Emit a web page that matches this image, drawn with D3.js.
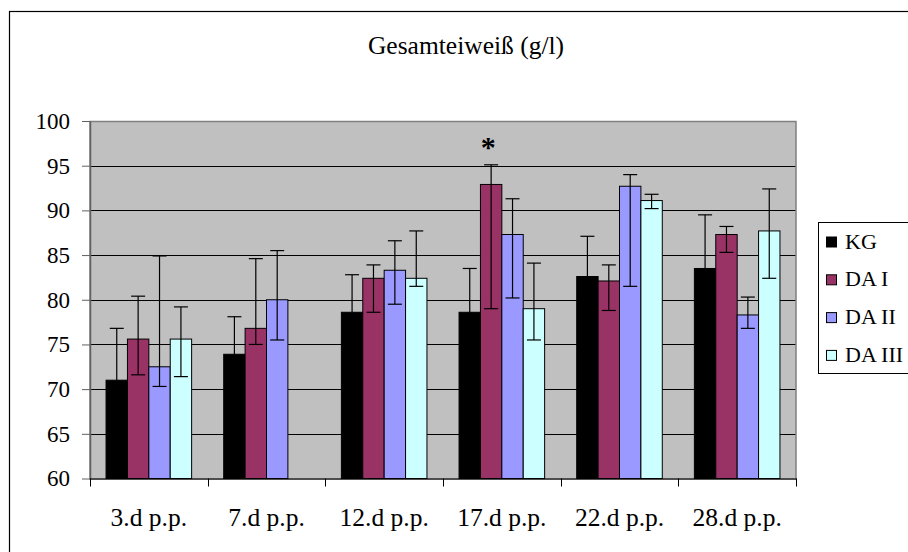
<!DOCTYPE html>
<html>
<head>
<meta charset="utf-8">
<script src="https://cdn.jsdelivr.net/npm/d3@7"></script>
<style>
  html, body { margin: 0; padding: 0; background: #fff; }
  svg { display: block; }
</style>
</head>
<body>
<svg id="chart" width="908" height="552"></svg>
<script>
// Sampling days (x categories) and groups (series)
const categories = ["3.d p.p.", "7.d p.p.", "12.d p.p.", "17.d p.p.", "22.d p.p.", "28.d p.p."];
const seriesNames = ["KG", "DA I", "DA II", "DA III"];
const seriesColors = ["#000000", "#993366", "#9999FF", "#CCFFFF"];

// Mean total protein (g/l) per group
const kg    = [71.0, 73.9, 78.6, 78.6, 82.6, 83.5];
const daI   = [75.6, 76.8, 82.4, 92.9, 82.1, 87.3];
const daII  = [72.5, 80.0, 83.3, 87.3, 92.7, 78.3];
const daIII = [75.6, null, 82.4, 79.0, 91.1, 87.7];

// Error bar ends (upper / lower) per group
const kgHigh    = [76.8, 78.1, 82.8, 83.5, 87.1, 89.5];
const kgLow     = [65.2, 69.7, 74.4, 73.7, 78.1, 77.5];
const daIHigh   = [80.4, 84.6, 83.9, 95.1, 83.9, 88.2];
const daILow    = [71.6, 75.0, 78.6, 79.0, 78.8, 85.3];
const daIIHigh  = [84.9, 85.5, 86.6, 91.3, 94.0, 80.3];
const daIILow   = [70.3, 75.5, 79.5, 80.2, 81.5, 76.8];
const daIIIHigh = [79.2, null, 87.7, 84.1, 91.8, 92.4];
const daIIILow  = [71.4, null, 81.5, 75.5, 90.2, 82.4];

// Y axis ticks
const yTicks = [60, 65, 70, 75, 80, 85, 90, 95, 100];

// Significance marker: category and series it sits above
const markers = [{ category: "17.d p.p.", series: "DA I", high: 95.1, text: "*" }];

const title = "Gesamteiweiß (g/l)";
const serif = "Liberation Serif";

const means = [kg, daI, daII, daIII];
const highs = [kgHigh, daIHigh, daIIHigh, daIIIHigh];
const lows  = [kgLow, daILow, daIILow, daIIILow];

const rows = [];
seriesNames.forEach((s, si) => {
  categories.forEach((c, ci) => {
    if (means[si][ci] == null) return;
    rows.push({ series: s, si, category: c, value: means[si][ci], high: highs[si][ci], low: lows[si][ci] });
  });
});

const svg = d3.select("#chart");
const plot = { left: 90, right: 796, top: 121, bottom: 478.5 };

const x0 = d3.scaleBand().domain(categories).range([plot.left, plot.right]).paddingInner(0).paddingOuter(0);
const x1 = d3.scaleBand().domain(seriesNames).range([0, x0.bandwidth()]).paddingInner(0).paddingOuter(0.75);
const y = d3.scaleLinear().domain([60, 100]).range([plot.bottom, plot.top]);
const color = d3.scaleOrdinal().domain(seriesNames).range(seriesColors);

// Outer chart frame
svg.append("rect")
  .attr("x", 9.5).attr("y", 11.5).attr("width", 1000).attr("height", 1000)
  .attr("fill", "#fff").attr("stroke", "#000").attr("stroke-width", 1.2);

// Title
svg.append("text")
  .attr("x", 466).attr("y", 54)
  .attr("text-anchor", "middle")
  .attr("font-family", serif)
  .attr("font-size", 25.5)
  .text(title);

// Plot area background
svg.append("rect")
  .attr("x", plot.left).attr("y", plot.top)
  .attr("width", plot.right - plot.left).attr("height", plot.bottom - plot.top)
  .attr("fill", "#C0C0C0");

// Horizontal gridlines
svg.append("g")
  .selectAll("line")
  .data(yTicks.filter(t => t > 60 && t < 100))
  .join("line")
  .attr("x1", plot.left).attr("x2", plot.right)
  .attr("y1", d => Math.round(y(d)) + 0.5).attr("y2", d => Math.round(y(d)) + 0.5)
  .attr("stroke", "#000").attr("stroke-width", 1);

// Plot area border
svg.append("rect")
  .attr("x", plot.left).attr("y", plot.top + 0.5)
  .attr("width", plot.right - plot.left).attr("height", plot.bottom - plot.top)
  .attr("fill", "none").attr("stroke", "#808080").attr("stroke-width", 1.5);

// Bars
const barG = svg.append("g");
barG.selectAll("rect")
  .data(rows)
  .join("rect")
  .attr("x", d => x0(d.category) + x1(d.series))
  .attr("y", d => y(d.value))
  .attr("width", x1.bandwidth())
  .attr("height", d => y(60) - y(d.value))
  .attr("fill", d => color(d.series))
  .attr("stroke", "#000").attr("stroke-width", 1);

// Error bars
const capHalf = 7;
const errG = svg.append("g").attr("stroke", "#000").attr("stroke-width", 1.2);
rows.forEach(d => {
  const cx = x0(d.category) + x1(d.series) + x1.bandwidth() / 2;
  errG.append("line").attr("x1", cx).attr("x2", cx).attr("y1", y(d.high)).attr("y2", y(d.low));
  errG.append("line").attr("x1", cx - capHalf).attr("x2", cx + capHalf).attr("y1", y(d.high)).attr("y2", y(d.high));
  errG.append("line").attr("x1", cx - capHalf).attr("x2", cx + capHalf).attr("y1", y(d.low)).attr("y2", y(d.low));
});

// Significance markers
svg.append("g")
  .selectAll("text")
  .data(markers)
  .join("text")
  .attr("x", d => x0(d.category) + x1(d.series) + x1.bandwidth() / 2 - 3)
  .attr("y", d => y(d.high) - 8)
  .attr("text-anchor", "middle")
  .attr("font-family", serif)
  .attr("font-size", 30)
  .attr("font-weight", "bold")
  .text(d => d.text);

// Y axis
const yAxis = svg.append("g")
  .attr("transform", `translate(${plot.left},0)`)
  .call(d3.axisLeft(y).tickValues(yTicks).tickSize(8).tickPadding(12).tickSizeOuter(0));
yAxis.attr("font-family", serif);
yAxis.select(".domain").attr("stroke", "#606060").attr("stroke-width", 1.5);
yAxis.selectAll(".tick line").attr("stroke", "#606060");
yAxis.selectAll("text").attr("font-size", 23).attr("font-family", serif).attr("fill", "#000");

// X axis
const xAxis = svg.append("g")
  .attr("transform", `translate(0,${plot.bottom})`)
  .call(d3.axisBottom(x0).tickSize(0).tickPadding(29).tickSizeOuter(0));
xAxis.attr("font-family", serif);
xAxis.select(".domain").attr("stroke", "#000").attr("stroke-width", 1.2);
xAxis.selectAll("text").attr("font-size", 25.5).attr("font-family", serif).attr("fill", "#000");
// Tick marks between categories
const bounds = categories.map(c => x0(c)).concat([plot.right]);
xAxis.selectAll(".bound")
  .data(bounds)
  .join("line")
  .attr("class", "bound")
  .attr("x1", d => Math.round(d) + 0.5).attr("x2", d => Math.round(d) + 0.5)
  .attr("y1", 0).attr("y2", 8)
  .attr("stroke", "#000");

// Legend
const legend = svg.append("g");
legend.append("rect")
  .attr("x", 818.5).attr("y", 222.5).attr("width", 100).attr("height", 151)
  .attr("fill", "#fff").attr("stroke", "#000").attr("stroke-width", 1);
const legendItems = legend.selectAll(".item")
  .data(seriesNames)
  .join("g")
  .attr("class", "item")
  .attr("transform", (d, i) => `translate(826,${242.5 + i * 37.8})`);
legendItems.append("rect")
  .attr("x", 0.5).attr("y", -5.5).attr("width", 10).attr("height", 10)
  .attr("fill", d => color(d)).attr("stroke", "#000").attr("stroke-width", 1);
legendItems.append("text")
  .attr("x", 19).attr("y", 6)
  .attr("font-family", serif)
  .attr("font-size", 22)
  .text(d => d);
</script>
</body>
</html>
